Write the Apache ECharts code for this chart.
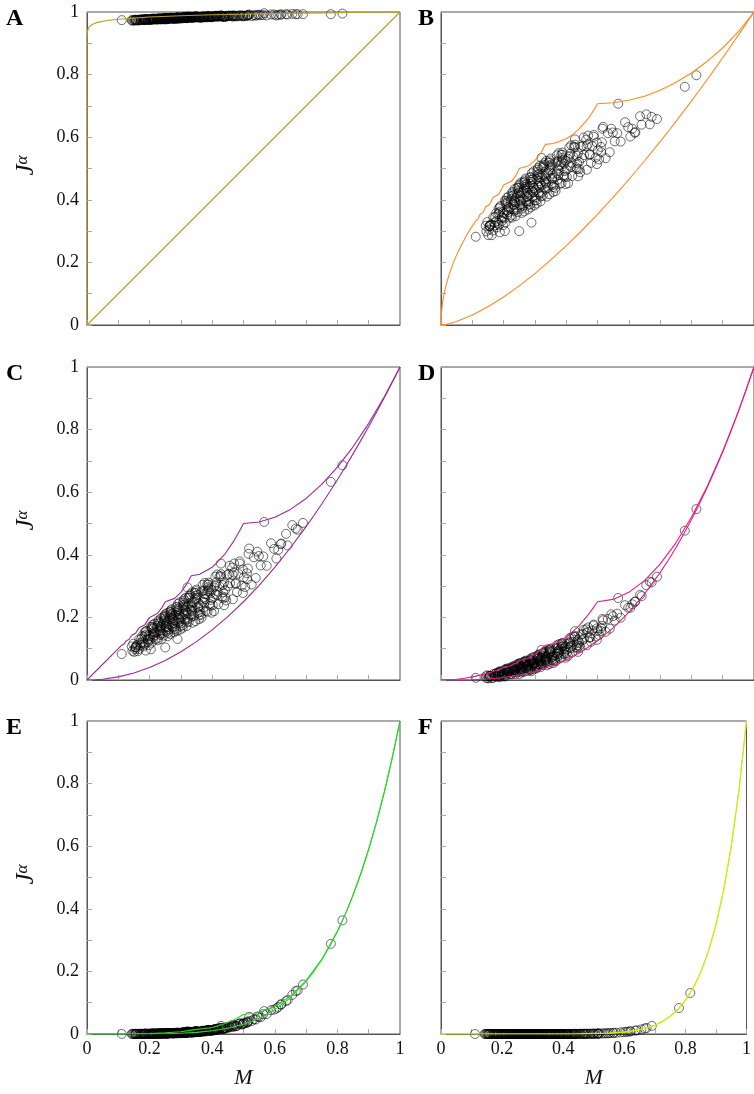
<!DOCTYPE html>
<html><head><meta charset="utf-8">
<script src="https://cdn.jsdelivr.net/npm/echarts@6/dist/echarts.min.js"></script>
<style>html,body{margin:0;padding:0;background:#fff}#c{width:754px;height:1094px}</style>
</head><body><div id="c"></div>
<script>
// ---------- tick labels ----------
const tickValues = [0, 0.2, 0.4, 0.6, 0.8, 1];
const tickLabels = ['0', '0.2', '0.4', '0.6', '0.8', '1'];

// ---------- scatter data: M (shared) and J^alpha per panel ----------
const M = [
0.111,0.155,0.155,0.156,0.566,0.779,0.816,0.25,0.289,0.188,0.204,0.151,0.162,0.518,0.428,0.321,0.656,0.69,0.667,0.619,0.621,
0.143,0.154,0.148,0.158,0.145,
0.171,0.176,0.161,0.173,0.166,0.179,
0.189,0.195,0.184,0.183,0.194,0.188,0.198,0.185,
0.211,0.216,0.201,0.213,0.206,0.219,0.209,0.215,0.204,
0.223,0.234,0.228,0.238,0.225,0.231,0.236,0.221,0.233,0.226,
0.259,0.249,0.255,0.244,0.243,0.254,0.248,0.258,0.245,0.251,0.256,
0.261,0.273,0.266,0.279,0.269,0.275,0.264,0.263,0.274,0.268,0.278,
0.285,0.291,0.296,0.281,0.293,0.286,0.299,0.289,0.295,0.284,0.283,
0.314,0.308,0.318,0.305,0.311,0.316,0.301,0.313,0.306,0.319,0.309,
0.335,0.324,0.323,0.334,0.328,0.338,0.325,0.331,0.336,0.321,
0.353,0.346,0.359,0.349,0.355,0.344,0.343,0.354,0.348,
0.378,0.365,0.371,0.376,0.361,0.373,0.366,0.379,
0.389,0.395,0.384,0.383,0.394,0.388,0.398,0.385,
0.411,0.416,0.401,0.413,0.406,0.419,0.409,
0.435,0.424,0.423,0.434,0.428,0.438,
0.445,0.451,0.456,0.441,0.453,
0.466,0.479,0.469,0.475,0.464,
0.483,0.494,0.488,0.498,
0.505,0.511,0.516,0.501,
0.533,0.526,0.539,
0.549,0.555,0.544,
0.563,0.574,
0.588,0.598,
0.605,0.611,
0.636,0.641,0.673,
0.172,0.167,0.177,
0.182,0.19,0.195,0.185,0.198,
0.208,0.214,0.212,0.207,0.217,0.202,0.21,
0.235,0.225,0.238,0.228,0.234,0.232,0.227,0.237,
0.242,0.25,0.255,0.245,0.258,0.248,0.254,0.252,0.247,
0.277,0.262,0.27,0.275,0.265,0.278,0.268,0.274,0.272,0.267,
0.297,0.282,0.29,0.295,0.285,0.298,0.288,0.294,0.292,0.287,
0.317,0.302,0.31,0.315,0.305,0.318,0.308,0.314,0.312,0.307,
0.337,0.322,0.33,0.335,0.325,0.338,0.328,0.334,0.332,
0.347,0.357,0.342,0.35,0.355,0.345,0.358,0.348,
0.374,0.372,0.367,0.377,0.362,0.37,0.375,
0.385,0.398,0.388,0.394,0.392,0.387,
0.417,0.402,0.41,0.415,0.405,
0.438,0.428,0.434,0.432,
0.447,0.457,0.442,
0.47,0.475,0.465,
0.498,0.488,
0.514,0.512
];
const J_A = [
0.974,0.975,0.975,0.975,0.996,0.993,0.995,0.976,0.978,0.974,0.975,0.973,0.973,0.992,0.990,0.986,0.994,0.993,0.993,0.992,0.992,
0.974,0.973,0.975,0.975,0.972,
0.975,0.977,0.974,0.976,0.973,0.974,
0.977,0.976,0.977,0.976,0.975,0.977,0.977,0.974,
0.977,0.979,0.976,0.978,0.975,0.976,0.978,0.977,0.978,
0.978,0.977,0.979,0.979,0.976,0.978,0.980,0.977,0.979,0.976,
0.978,0.980,0.979,0.980,0.979,0.978,0.980,0.980,0.977,0.979,0.981,
0.979,0.981,0.978,0.979,0.981,0.980,0.981,0.980,0.979,0.981,0.981,
0.979,0.981,0.983,0.980,0.982,0.979,0.980,0.982,0.981,0.982,0.981,
0.981,0.983,0.983,0.980,0.982,0.984,0.981,0.983,0.980,0.981,0.983,
0.983,0.984,0.983,0.982,0.984,0.984,0.981,0.983,0.985,0.982,
0.985,0.982,0.983,0.985,0.984,0.985,0.984,0.983,0.985,
0.985,0.982,0.984,0.986,0.983,0.985,0.982,0.983,
0.986,0.985,0.986,0.985,0.984,0.986,0.986,0.983,
0.986,0.988,0.985,0.987,0.984,0.985,0.987,
0.986,0.987,0.986,0.985,0.987,0.987,
0.985,0.987,0.989,0.986,0.988,
0.985,0.986,0.988,0.987,0.988,
0.988,0.987,0.989,0.989,
0.987,0.989,0.991,0.988,
0.990,0.987,0.988,
0.991,0.990,0.991,
0.990,0.989,
0.992,0.992,
0.989,0.991,
0.993,0.992,0.993,
0.974,0.976,0.975,
0.975,0.978,0.976,0.977,0.974,
0.978,0.977,0.976,0.978,0.977,0.976,0.979,
0.978,0.979,0.976,0.979,0.978,0.977,0.979,0.978,
0.978,0.981,0.979,0.980,0.977,0.980,0.979,0.978,0.980,
0.980,0.979,0.982,0.980,0.980,0.978,0.981,0.980,0.979,0.981,
0.981,0.980,0.983,0.981,0.982,0.979,0.982,0.981,0.980,0.982,
0.982,0.981,0.984,0.982,0.983,0.980,0.983,0.982,0.981,0.983,
0.983,0.982,0.985,0.983,0.984,0.981,0.984,0.983,0.982,
0.985,0.984,0.983,0.986,0.984,0.985,0.982,0.985,
0.984,0.983,0.985,0.984,0.983,0.986,0.984,
0.986,0.983,0.986,0.985,0.984,0.986,
0.986,0.985,0.988,0.986,0.987,
0.984,0.987,0.986,0.985,
0.988,0.987,0.986,
0.989,0.987,0.988,
0.986,0.989,
0.989,0.988
];
const J_B = [
0.282,0.316,0.316,0.317,0.707,0.761,0.798,0.300,0.327,0.296,0.300,0.287,0.287,0.633,0.593,0.534,0.673,0.658,0.641,0.614,0.616,
0.317,0.305,0.329,0.321,0.299,
0.327,0.357,0.321,0.345,0.302,0.312,
0.363,0.343,0.372,0.354,0.332,0.376,0.361,0.320,
0.366,0.411,0.357,0.393,0.327,0.343,0.386,0.361,0.397,
0.395,0.365,0.425,0.405,0.350,0.385,0.435,0.375,0.415,0.343,
0.372,0.424,0.394,0.438,0.411,0.378,0.444,0.422,0.361,0.400,0.455,
0.402,0.450,0.363,0.384,0.441,0.408,0.456,0.426,0.390,0.462,0.438,
0.385,0.429,0.491,0.416,0.466,0.376,0.398,0.457,0.423,0.472,0.441,
0.418,0.496,0.470,0.398,0.444,0.509,0.431,0.483,0.388,0.411,0.473,
0.452,0.504,0.472,0.433,0.511,0.485,0.413,0.459,0.524,0.446,
0.513,0.418,0.441,0.503,0.467,0.519,0.487,0.448,0.526,
0.510,0.438,0.484,0.549,0.471,0.523,0.428,0.451,
0.528,0.492,0.544,0.512,0.473,0.551,0.525,0.453,
0.509,0.574,0.496,0.548,0.453,0.476,0.538,
0.517,0.569,0.537,0.498,0.576,0.550,
0.488,0.534,0.599,0.521,0.573,
0.496,0.518,0.577,0.543,0.592,
0.571,0.535,0.607,0.583,
0.529,0.569,0.627,0.558,
0.613,0.533,0.552,
0.615,0.587,0.627,
0.613,0.586,
0.648,0.632,
0.602,0.627,
0.667,0.640,0.665,
0.318,0.344,0.332,
0.326,0.380,0.344,0.359,0.319,
0.397,0.377,0.352,0.390,0.372,0.341,0.406,
0.383,0.403,0.348,0.420,0.398,0.370,0.413,0.393,
0.369,0.449,0.397,0.419,0.358,0.438,0.413,0.383,0.430,
0.423,0.381,0.468,0.411,0.435,0.369,0.456,0.429,0.396,0.447,
0.438,0.395,0.485,0.426,0.451,0.382,0.472,0.444,0.410,0.463,
0.453,0.408,0.502,0.440,0.466,0.395,0.489,0.460,0.424,0.479,
0.468,0.423,0.517,0.455,0.481,0.410,0.504,0.475,0.439,
0.509,0.483,0.438,0.532,0.470,0.496,0.425,0.519,
0.500,0.464,0.519,0.493,0.448,0.542,0.480,
0.521,0.450,0.544,0.515,0.479,0.534,
0.518,0.473,0.567,0.505,0.531,
0.475,0.569,0.540,0.504,
0.569,0.543,0.498,
0.605,0.546,0.571,
0.514,0.601,
0.584,0.552
];
const J_C = [
0.083,0.104,0.104,0.105,0.505,0.633,0.686,0.104,0.131,0.094,0.098,0.090,0.092,0.420,0.372,0.296,0.495,0.502,0.484,0.434,0.436,
0.107,0.098,0.116,0.110,0.093,
0.118,0.140,0.113,0.131,0.099,0.107,
0.145,0.129,0.152,0.138,0.121,0.155,0.143,0.113,
0.147,0.180,0.140,0.167,0.119,0.130,0.162,0.143,0.170,
0.167,0.144,0.190,0.174,0.133,0.159,0.197,0.152,0.182,0.127,
0.151,0.191,0.168,0.201,0.180,0.155,0.205,0.189,0.142,0.172,0.214,
0.177,0.213,0.147,0.163,0.206,0.181,0.217,0.195,0.168,0.222,0.204,
0.163,0.198,0.248,0.188,0.228,0.156,0.173,0.221,0.193,0.233,0.208,
0.190,0.252,0.232,0.174,0.211,0.263,0.200,0.242,0.167,0.185,0.234,
0.219,0.263,0.236,0.203,0.269,0.247,0.186,0.225,0.280,0.214,
0.272,0.188,0.208,0.263,0.231,0.278,0.249,0.214,0.284,
0.274,0.208,0.250,0.310,0.238,0.286,0.199,0.220,
0.290,0.256,0.305,0.274,0.237,0.311,0.287,0.218,
0.274,0.337,0.261,0.312,0.220,0.242,0.302,
0.280,0.331,0.299,0.261,0.338,0.312,
0.254,0.300,0.365,0.287,0.339,
0.258,0.281,0.343,0.307,0.359,
0.340,0.301,0.379,0.353,
0.297,0.341,0.403,0.328,
0.392,0.305,0.326,
0.396,0.366,0.410,
0.395,0.365,
0.437,0.419,
0.388,0.416,
0.467,0.430,0.480,
0.111,0.130,0.121,
0.117,0.157,0.131,0.142,0.111,
0.170,0.155,0.137,0.165,0.152,0.129,0.176,
0.157,0.173,0.131,0.186,0.169,0.148,0.180,0.165,
0.149,0.210,0.170,0.187,0.140,0.201,0.182,0.159,0.195,
0.192,0.161,0.226,0.183,0.201,0.152,0.217,0.197,0.172,0.210,
0.206,0.171,0.243,0.196,0.216,0.161,0.233,0.211,0.183,0.226,
0.219,0.182,0.258,0.208,0.229,0.172,0.247,0.224,0.195,0.239,
0.233,0.194,0.274,0.222,0.244,0.183,0.263,0.238,0.208,
0.269,0.246,0.205,0.289,0.234,0.258,0.194,0.278,
0.265,0.232,0.283,0.259,0.217,0.304,0.247,
0.284,0.215,0.305,0.277,0.243,0.296,
0.283,0.239,0.330,0.271,0.296,
0.239,0.331,0.303,0.267,
0.335,0.309,0.264,
0.372,0.310,0.336,
0.278,0.372,
0.356,0.322
];
const J_D = [
0.007,0.013,0.013,0.013,0.262,0.477,0.546,0.019,0.028,0.009,0.011,0.005,0.006,0.191,0.156,0.096,0.303,0.330,0.314,0.250,0.251,
0.012,0.008,0.015,0.013,0.006,
0.014,0.022,0.013,0.019,0.007,0.010,
0.024,0.018,0.026,0.021,0.015,0.027,0.023,0.012,
0.025,0.038,0.022,0.033,0.014,0.018,0.031,0.023,0.034,
0.034,0.025,0.043,0.037,0.020,0.031,0.046,0.028,0.040,0.018,
0.028,0.045,0.035,0.050,0.041,0.030,0.052,0.044,0.025,0.037,0.055,
0.040,0.056,0.027,0.034,0.053,0.042,0.058,0.048,0.036,0.060,0.052,
0.035,0.051,0.073,0.046,0.064,0.032,0.040,0.061,0.049,0.066,0.055,
0.049,0.078,0.068,0.042,0.059,0.083,0.054,0.073,0.038,0.047,0.069,
0.064,0.085,0.072,0.056,0.087,0.077,0.048,0.066,0.092,0.061,
0.092,0.051,0.061,0.088,0.072,0.095,0.081,0.064,0.098,
0.096,0.063,0.084,0.114,0.078,0.102,0.059,0.069,
0.108,0.091,0.116,0.100,0.082,0.119,0.106,0.072,
0.104,0.136,0.097,0.123,0.077,0.088,0.118,
0.111,0.138,0.121,0.102,0.141,0.128,
0.104,0.127,0.160,0.120,0.147,
0.111,0.122,0.154,0.135,0.162,
0.158,0.139,0.177,0.165,
0.144,0.165,0.195,0.159,
0.195,0.154,0.164,
0.204,0.190,0.210,
0.212,0.199,
0.239,0.231,
0.231,0.242,
0.272,0.268,0.312,
0.012,0.019,0.015,
0.014,0.028,0.019,0.023,0.012,
0.034,0.028,0.021,0.032,0.027,0.018,0.036,
0.030,0.036,0.019,0.041,0.034,0.026,0.039,0.033,
0.027,0.053,0.036,0.044,0.024,0.050,0.042,0.032,0.047,
0.047,0.033,0.062,0.043,0.051,0.029,0.058,0.049,0.038,0.055,
0.054,0.039,0.071,0.050,0.059,0.034,0.066,0.056,0.044,0.063,
0.062,0.045,0.080,0.057,0.067,0.041,0.075,0.065,0.051,0.072,
0.070,0.052,0.090,0.065,0.076,0.047,0.085,0.073,0.059,
0.091,0.079,0.060,0.100,0.074,0.085,0.054,0.095,
0.092,0.075,0.101,0.089,0.068,0.111,0.083,
0.105,0.071,0.116,0.102,0.085,0.111,
0.109,0.086,0.133,0.102,0.115,
0.090,0.138,0.123,0.105,
0.145,0.132,0.109,
0.168,0.137,0.150,
0.128,0.174,
0.173,0.156
];
const J_E = [
0.0001,0.0003,0.0003,0.0003,0.073,0.288,0.363,0.0012,0.0022,0.0003,0.0004,0.0001,0.0002,0.055,0.026,0.009,0.125,0.158,0.137,0.094,0.095,
0.0003,0.0002,0.0004,0.0003,0.0002,
0.0005,0.0007,0.0004,0.0006,0.0003,0.0004,
0.0008,0.0006,0.0009,0.0007,0.0006,0.0009,0.0008,0.0005,
0.0010,0.0014,0.0009,0.0012,0.0006,0.0008,0.0011,0.0009,0.0012,
0.0015,0.0012,0.0018,0.0016,0.0010,0.0014,0.0019,0.0013,0.0017,0.0009,
0.0015,0.0021,0.0018,0.0023,0.0020,0.0016,0.0023,0.0021,0.0014,0.0018,0.0024,
0.0023,0.0029,0.0017,0.0020,0.0028,0.0023,0.0030,0.0026,0.0021,0.0031,0.0027,
0.0025,0.0032,0.0042,0.0030,0.0038,0.0024,0.0027,0.0037,0.0031,0.0039,0.0034,
0.0037,0.0052,0.0047,0.0033,0.0042,0.0055,0.0039,0.0050,0.0031,0.0035,0.0048,
0.0053,0.0066,0.0058,0.0048,0.0068,0.0061,0.0042,0.0054,0.0071,0.0051,
0.0082,0.0053,0.0062,0.0079,0.0068,0.0084,0.0074,0.0062,0.0086,
0.0096,0.0074,0.0088,0.0108,0.0084,0.0100,0.0071,0.0079,
0.0122,0.0108,0.0128,0.0116,0.0101,0.0131,0.0121,0.0093,
0.0137,0.0167,0.0131,0.0155,0.0112,0.0132,0.0151,
0.0166,0.0190,0.0175,0.0157,0.0193,0.0181,
0.0182,0.0207,0.0242,0.0200,0.0228,
0.0222,0.0256,0.0270,0.0248,0.0280,
0.0314,0.0300,0.0338,0.0322,
0.0343,0.0371,0.0411,0.0363,
0.0470,0.0412,0.0462,
0.0549,0.0535,0.0559,
0.0633,0.0635,
0.0761,0.0780,
0.0815,0.0862,
0.1050,0.1085,0.1390,
0.0004,0.0006,0.0005,
0.0005,0.0009,0.0007,0.0008,0.0005,
0.0012,0.0011,0.0008,0.0012,0.0010,0.0007,0.0013,
0.0013,0.0015,0.0010,0.0017,0.0015,0.0012,0.0016,0.0014,
0.0015,0.0024,0.0018,0.0020,0.0014,0.0023,0.0020,0.0017,0.0022,
0.0025,0.0020,0.0031,0.0024,0.0027,0.0019,0.0030,0.0026,0.0022,0.0029,
0.0034,0.0027,0.0041,0.0032,0.0036,0.0025,0.0039,0.0035,0.0029,0.0038,
0.0044,0.0035,0.0053,0.0041,0.0046,0.0034,0.0051,0.0045,0.0038,0.0049,
0.0057,0.0045,0.0070,0.0053,0.0060,0.0045,0.0066,0.0059,0.0049,
0.0081,0.0073,0.0059,0.0088,0.0069,0.0077,0.0061,0.0084,
0.0093,0.0082,0.0099,0.0091,0.0077,0.0106,0.0087,
0.0119,0.0102,0.0128,0.0117,0.0103,0.0124,
0.0142,0.0120,0.0164,0.0136,0.0148,
0.0163,0.0190,0.0177,0.0160,
0.0226,0.0212,0.0187,
0.0288,0.0250,0.0266,
0.0316,0.0334,
0.0381,0.0360
];
const J_F = [
0,0,0,0,0.0036,0.083,0.131,0,0,0,0,0,0,0.0015,0.0003,0,0.0148,0.026,0.0175,0.0083,0.0085,
0,0,0,0,0,
0,0,0,0,0,0,
0,0,0,0,0,0,0,0,
0,0,0,0,0,0,0,0,0,
0,0,0,0,0,0,0,0,0,0,
0,0,0,0,0,0,0,0,0,0,0,
0,0,0,0,0,0,0,0,0,0,0,
0,0,0,0,0,0,0,0,0,0,0,
0,0,0,0,0,0,0,0,0,0,0,
0,0,0,0,0,0,0,0,0,0,
0,0,0,0,0,0,0,0,0,
0,0,0,0,0,0,0,0,
0,0.0001,0,0,0.0001,0,0.0001,0,
0.0001,0.0002,0.0001,0.0001,0.0001,0.0002,0.0001,
0.0002,0.0002,0.0002,0.0002,0.0002,0.0003,
0.0003,0.0003,0.0004,0.0003,0.0004,
0.0005,0.0006,0.0005,0.0006,0.0005,
0.0007,0.0009,0.0008,0.0009,
0.0011,0.0012,0.0014,0.0010,
0.0019,0.0016,0.0021,
0.0025,0.0028,0.0023,
0.0033,0.0039,
0.0050,0.0059,
0.0068,0.0075,
0.0109,0.0118,0.0192,
0,0,0,
0,0,0,0,0,
0,0,0,0,0,0,0,
0,0,0,0,0,0,0,0,
0,0,0,0,0,0,0,0,0,
0,0,0,0,0,0,0,0,0,0,
0,0,0,0,0,0,0,0,0,0,
0,0,0,0,0,0,0,0,0,0,
0,0,0,0,0,0,0,0,0,
0,0,0,0,0,0,0,0,
0,0,0,0,0,0,0,
0,0.0001,0,0.0001,0.0001,0,
0.0002,0.0001,0.0001,0.0002,0.0001,
0.0003,0.0002,0.0002,0.0002,
0.0003,0.0004,0.0003,
0.0005,0.0006,0.0005,
0.0009,0.0008,
0.0013,0.0012
];

// ---------- bound curves ----------
const A_upM = [0,0.0001,0.001,0.003,0.007,0.015,0.03,0.06,0.1,0.2,0.3,0.4,0.5,0.6,0.7,0.8,0.9,1];
const A_upJ = [0,0.912,0.933,0.944,0.952,0.959,0.966,0.972,0.977,0.984,0.988,0.991,0.993,0.995,0.9964,0.9978,0.999,1];
const A_loM = [0,1];
const A_loJ = [0,1];

const B_upM = [0,0.002,0.005,0.01,0.02,0.03,0.04,0.05,0.0625,0.0714,0.0833,0.0909,0.1,0.1111,0.118,0.125,0.134,0.1429,0.155,0.1667,0.185,0.2,0.225,0.24,0.25,0.28,0.3,0.32,0.3333,0.36,0.4,0.42,0.44,0.47,0.49,0.5,0.55,0.6,0.65,0.7,0.75,0.8,0.85,0.9,0.95,1];
const B_upJ = [0,0.045,0.071,0.1,0.141,0.173,0.2,0.224,0.25,0.267,0.289,0.302,0.316,0.333,0.338,0.354,0.359,0.378,0.385,0.408,0.418,0.447,0.459,0.478,0.5,0.509,0.525,0.551,0.577,0.58,0.595,0.608,0.625,0.659,0.689,0.707,0.71,0.718,0.731,0.75,0.775,0.805,0.842,0.885,0.937,1];

const C_upM = [0,0.1,0.1111,0.118,0.125,0.134,0.1429,0.155,0.1667,0.185,0.2,0.225,0.24,0.25,0.28,0.3,0.32,0.3333,0.36,0.4,0.44,0.47,0.49,0.5,0.55,0.6,0.65,0.7,0.75,0.8,0.85,0.9,0.95,1];
const C_upJ = [0,0.1,0.1111,0.1145,0.125,0.1295,0.1429,0.1491,0.1667,0.1768,0.2,0.2125,0.232,0.25,0.2608,0.28,0.3088,0.3333,0.3376,0.36,0.4016,0.4454,0.4806,0.5,0.505,0.52,0.545,0.58,0.625,0.68,0.745,0.82,0.905,1];

const D_upM = [0,0.05,0.075,0.1,0.125,0.1429,0.155,0.1667,0.185,0.2,0.225,0.24,0.25,0.28,0.3,0.32,0.3333,0.36,0.4,0.44,0.47,0.49,0.5,0.55,0.6,0.65,0.7,0.75,0.8,0.85,0.9,0.95,1];
const D_upJ = [0,0.0025,0.0056,0.01,0.0156,0.0204,0.0227,0.0278,0.0321,0.04,0.0466,0.0554,0.0625,0.07,0.082,0.0984,0.1111,0.1153,0.136,0.1721,0.2079,0.2353,0.25,0.2575,0.28,0.3175,0.37,0.4375,0.52,0.6175,0.73,0.8575,1];

const E_upM = [0,0.1,0.2,0.25,0.3,0.3333,0.4,0.44,0.47,0.49,0.5,0.55,0.6,0.65,0.7,0.75,0.8,0.825,0.85,0.875,0.9,0.925,0.95,0.975,1];
const E_upJ = [0,0.0001,0.0016,0.0039,0.0073,0.0123,0.0208,0.033,0.0459,0.0565,0.0625,0.0688,0.088,0.1213,0.1705,0.2383,0.328,0.3822,0.4437,0.5129,0.5905,0.6772,0.7738,0.8811,1];

const loM  = [0,0.025,0.05,0.1,0.15,0.2,0.25,0.3,0.35,0.4,0.45,0.5,0.55,0.6,0.65,0.7,0.725,0.75,0.775,0.8,0.825,0.85,0.875,0.9,0.925,0.95,0.975,1];
const B_loJ = [0,0.004,0.0112,0.0316,0.0581,0.0894,0.125,0.1643,0.2071,0.253,0.3019,0.3536,0.4079,0.4648,0.524,0.5857,0.6173,0.6495,0.6823,0.7155,0.7493,0.7837,0.8185,0.8538,0.8896,0.926,0.9627,1];
const C_loJ = [0,0.0006,0.0025,0.01,0.0225,0.04,0.0625,0.09,0.1225,0.16,0.2025,0.25,0.3025,0.36,0.4225,0.49,0.5256,0.5625,0.6006,0.64,0.6806,0.7225,0.7656,0.81,0.8556,0.9025,0.9506,1];
const D_loJ = [0,0,0.0001,0.001,0.0034,0.008,0.0156,0.027,0.0429,0.064,0.0911,0.125,0.1664,0.216,0.2746,0.343,0.3811,0.4219,0.4655,0.512,0.5615,0.6141,0.6699,0.729,0.7914,0.8574,0.9268,1];
const E_loJ = [0,0,0,0.00001,0.0001,0.0003,0.001,0.0024,0.0053,0.0102,0.0185,0.0313,0.0503,0.0778,0.116,0.1681,0.2003,0.2373,0.2796,0.3277,0.3822,0.4437,0.5129,0.5905,0.6772,0.7738,0.8811,1];
const F_loJ = [0,0,0,0,0,0,0,0,0,0.0001,0.0003,0.001,0.0025,0.006,0.0135,0.0282,0.0401,0.0563,0.0782,0.1074,0.1461,0.1969,0.2631,0.3487,0.4586,0.5987,0.7763,1];
const F_upJ = [0,0,0,0,0,0,0,0,0,0.0001,0.0007,0.002,0.0028,0.0061,0.0135,0.0282,0.0401,0.0563,0.0782,0.1074,0.1461,0.1969,0.2631,0.3487,0.4586,0.5987,0.7763,1];

// ---------- layout / styling ----------
const FONT = '"Liberation Serif", "DejaVu Serif", serif';
const SIZE = 313;
const panels = [
  {key:'A', left:87,  top:12,  lx:6,   color:'#b3a025', J:J_A, curves:[[A_upM,A_upJ],[A_loM,A_loJ]], yLab:true,  xLab:false},
  {key:'B', left:441, top:12,  lx:418, color:'#ff8a22', J:J_B, curves:[[B_upM,B_upJ],[loM,B_loJ]],   yLab:false, xLab:false},
  {key:'C', left:87,  top:367, lx:6,   color:'#9b289b', J:J_C, curves:[[C_upM,C_upJ],[loM,C_loJ]],   yLab:true,  xLab:false},
  {key:'D', left:441, top:367, lx:418, color:'#e61e8c', J:J_D, curves:[[D_upM,D_upJ],[loM,D_loJ]],   yLab:false, xLab:false},
  {key:'E', left:87,  top:721, lx:6,   color:'#2ad42a', J:J_E, curves:[[E_upM,E_upJ],[loM,E_loJ]],   yLab:true,  xLab:true},
  {key:'F', left:441, top:721, lx:418, color:'#c6ee10', J:J_F, curves:[[loM,F_upJ],[loM,F_loJ]],     yLab:false, xLab:true}
];

function fmt(v) {
  const i = tickValues.findIndex(t => Math.abs(t - v) < 1e-6);
  return i >= 0 ? tickLabels[i] : '';
}

const grids = [], xAxes = [], yAxes = [], series = [], graphic = [];
panels.forEach((p, i) => {
  grids.push({left:p.left, top:p.top, width:SIZE, height:SIZE, show:true, borderColor:'#555', borderWidth:1, backgroundColor:'rgba(0,0,0,0)'});
  const common = {
    gridIndex:i, type:'value', min:0, max:1, interval:0.1,
    axisLine:{show:true, onZero:false, lineStyle:{color:'#555', width:1}},
    axisTick:{show:true, inside:true, length:5, lineStyle:{color:'#aaa', width:1}},
    splitLine:{show:false}
  };
  xAxes.push(Object.assign({}, common, {
    axisLabel:{show:p.xLab, formatter:fmt, fontFamily:FONT, fontSize:18, color:'#111', margin:6},
    name:p.xLab ? 'M' : '', nameLocation:'middle', nameGap:33,
    nameTextStyle:{fontFamily:FONT, fontStyle:'italic', fontSize:22, color:'#111'}
  }));
  yAxes.push(Object.assign({}, common, {
    axisLabel:{show:p.yLab, formatter:fmt, fontFamily:FONT, fontSize:18, color:'#111', margin:8},
    name:p.yLab ? '{j|J}{a|α}' : '', nameLocation:'middle', nameGap:48,
    nameTextStyle:{color:'#111', rich:{
      j:{fontFamily:FONT, fontStyle:'italic', fontSize:25, color:'#111', padding:[0,0,0,6]},
      a:{fontFamily:FONT, fontStyle:'italic', fontSize:17, color:'#111', verticalAlign:'top'}
    }}
  }));
  series.push({
    type:'scatter', xAxisIndex:i, yAxisIndex:i, clip:false, silent:true, z:2,
    symbol:'circle', symbolSize:9,
    itemStyle:{color:'rgba(0,0,0,0)', borderColor:'rgba(0,0,0,0.7)', borderWidth:1},
    data:M.map((m, k) => [m, p.J[k]])
  });
  p.curves.forEach(c => {
    series.push({
      type:'line', xAxisIndex:i, yAxisIndex:i, showSymbol:false, symbol:'none', silent:true, z:3,
      lineStyle:{color:p.color, width:1.1},
      data:c[0].map((m, k) => [m, c[1][k]])
    });
  });
  graphic.push({type:'text', left:p.lx, top:p.top - 5, style:{text:p.key, font:'bold 24px ' + FONT, fill:'#000'}});
});

const chart = echarts.init(document.getElementById('c'), null, {renderer:'canvas'});
chart.setOption({
  animation:false,
  backgroundColor:'#fff',
  grid:grids, xAxis:xAxes, yAxis:yAxes, series:series, graphic:graphic
});
</script>
</body></html>
